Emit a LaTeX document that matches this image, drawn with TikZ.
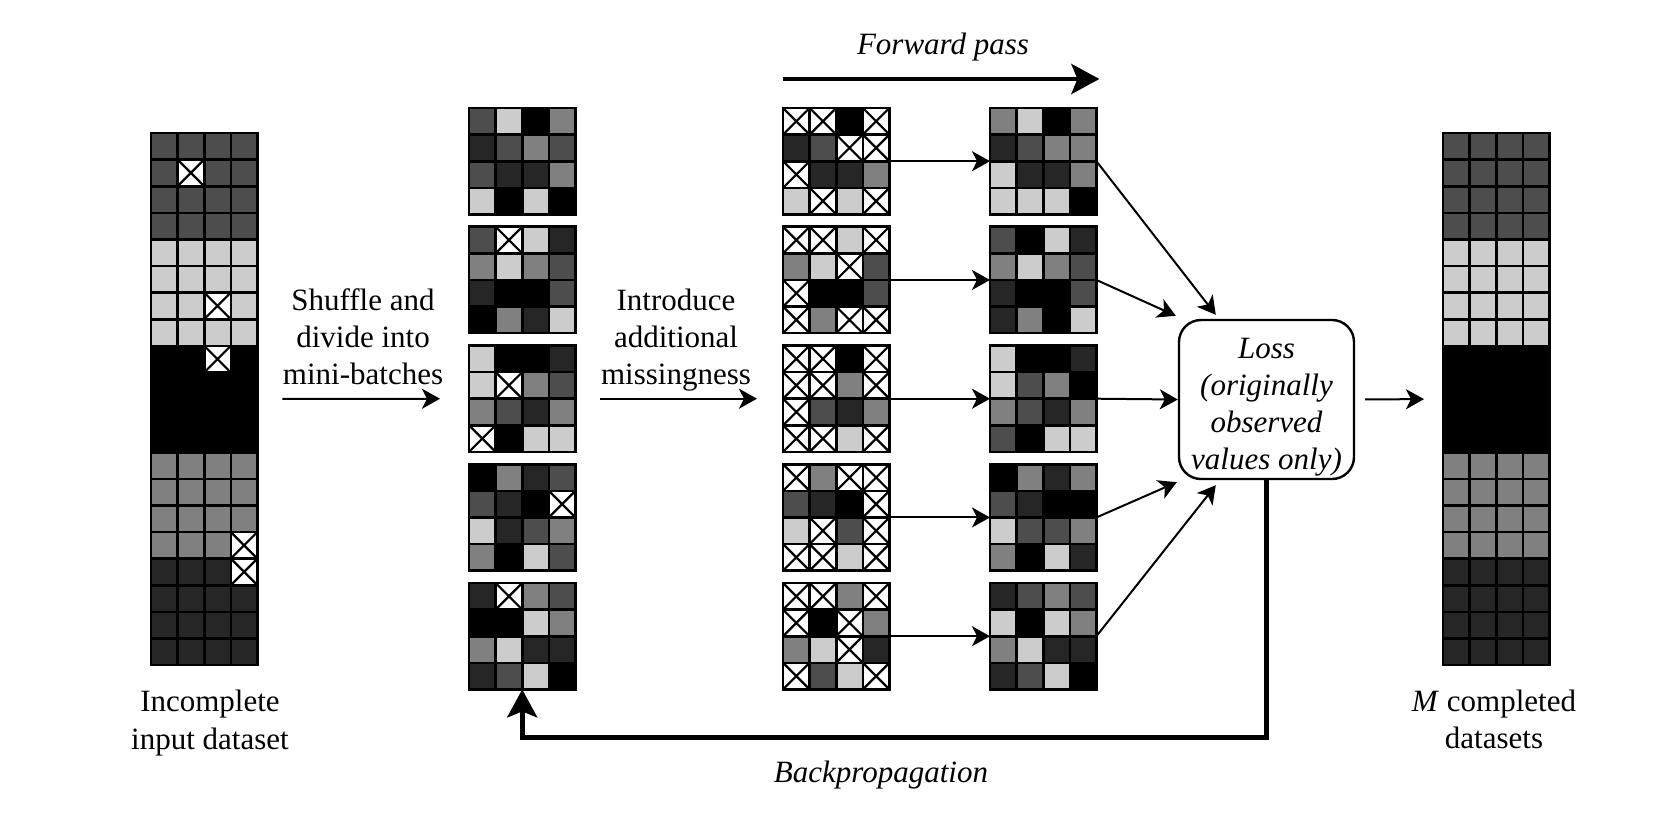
\documentclass[tikz,border=0pt]{standalone}
\usepackage{fontspec}
\setmainfont{Liberation Serif}
\usetikzlibrary{arrows.meta,calc}
\definecolor{gL}{HTML}{CCCCCC}
\definecolor{gM}{HTML}{808080}
\definecolor{gD}{HTML}{4D4D4D}
\definecolor{gV}{HTML}{262626}
\definecolor{gK}{HTML}{000000}
\definecolor{gX}{HTML}{FFFFFF}
\newcommand{\cgrid}[3]{%
  \foreach \rowlist [count=\ri] in {#3}{%
    \foreach \cv [count=\ci] in \rowlist {%
      \path[cellst, fill=g\cv] (#1+\ci*26.6-26.6, #2+\ri*26.6-26.6) rectangle ++(26.6,26.6);
      \if X\cv
        \draw[crossst] (#1+\ci*26.6-26.6, #2+\ri*26.6-26.6) -- ++(26.6,26.6) ++(0,-26.6) -- ++(-26.6,26.6);
      \fi
    }%
  }%
}
\newcommand{\blkgrid}[4]{%
  \node[blk] (#1) at (#2+53.2, #3+53.2) {};
  \cgrid{#2}{#3}{#4}%
}
\begin{document}
\begin{tikzpicture}[x=0.5pt,y=-0.5pt,
  cellst/.style={draw=black,line width=1.3pt},
  crossst/.style={draw=black,line width=1.1pt},
  blk/.style={inner sep=0pt,outer sep=0pt,minimum width=53.2pt,minimum height=53.2pt},
  tall/.style={inner sep=0pt,outer sep=0pt,minimum width=53.2pt,minimum height=266pt},
  txt/.style={align=center,font=\fontsize{15.5}{18.6}\selectfont,inner sep=0pt},
  itxt/.style={align=center,font=\fontsize{15.5}{18.6}\selectfont\itshape,inner sep=0pt},
  arr/.style={line width=1pt,-{Stealth[length=9pt,width=10pt,inset=2.5pt]}},
  bigarr/.style={line width=2.3pt,-{Stealth[length=14pt,width=15pt,inset=3pt]}},
  lossbox/.style={draw,line width=1.2pt,rounded corners=11pt,minimum width=87.5pt,minimum height=79.5pt,inner sep=0pt}]
\useasboundingbox (0,0) rectangle (1670,824);

% left tall column
\node[tall] (lcol) at (151+53.2, 133+266) {};
\cgrid{151}{133}{{D,D,D,D},{D,X,D,D},{D,D,D,D},{D,D,D,D},
  {L,L,L,L},{L,L,L,L},{L,L,X,L},{L,L,L,L},
  {K,K,X,K},{K,K,K,K},{K,K,K,K},{K,K,K,K},
  {M,M,M,M},{M,M,M,M},{M,M,M,M},{M,M,M,X},
  {V,V,V,X},{V,V,V,V},{V,V,V,V},{V,V,V,V}}

% right tall column
\node[tall] (rcol) at (1443+53.2, 133+266) {};
\cgrid{1443}{133}{{D,D,D,D},{D,D,D,D},{D,D,D,D},{D,D,D,D},
  {L,L,L,L},{L,L,L,L},{L,L,L,L},{L,L,L,L},
  {K,K,K,K},{K,K,K,K},{K,K,K,K},{K,K,K,K},
  {M,M,M,M},{M,M,M,M},{M,M,M,M},{M,M,M,M},
  {V,V,V,V},{V,V,V,V},{V,V,V,V},{V,V,V,V}}

% mini-batches
\blkgrid{mb1}{469}{108}{{D,L,K,M},{V,D,M,D},{D,V,V,M},{L,K,L,K}}
\blkgrid{mb2}{469}{226.75}{{D,X,L,V},{M,L,M,D},{V,K,K,D},{K,M,V,L}}
\blkgrid{mb3}{469}{345.5}{{L,K,K,V},{L,X,M,D},{M,D,V,M},{X,K,L,L}}
\blkgrid{mb4}{469}{464.25}{{K,M,V,D},{D,V,K,X},{L,V,D,M},{M,K,L,D}}
\blkgrid{mb5}{469}{583}{{V,X,M,D},{K,K,L,M},{M,L,V,V},{V,D,L,K}}

% masked
\blkgrid{ms1}{783}{108}{{X,X,K,X},{V,D,X,X},{X,V,V,M},{L,X,L,X}}
\blkgrid{ms2}{783}{226.75}{{X,X,L,X},{M,L,X,D},{X,K,K,D},{X,M,X,X}}
\blkgrid{ms3}{783}{345.5}{{X,X,K,X},{X,X,M,X},{X,D,V,M},{X,X,L,X}}
\blkgrid{ms4}{783}{464.25}{{X,M,X,X},{D,V,K,X},{L,X,D,X},{X,X,L,X}}
\blkgrid{ms5}{783}{583}{{X,X,M,X},{X,K,X,M},{M,L,X,V},{X,D,L,X}}

% outputs
\blkgrid{out1}{990}{108}{{M,L,K,M},{V,D,M,M},{L,V,V,M},{L,L,L,K}}
\blkgrid{out2}{990}{226.75}{{D,K,L,V},{M,L,M,D},{V,K,K,D},{V,M,K,L}}
\blkgrid{out3}{990}{345.5}{{L,K,K,V},{L,D,M,K},{M,D,V,M},{D,K,L,L}}
\blkgrid{out4}{990}{464.25}{{K,M,V,M},{D,V,K,K},{L,D,D,M},{M,K,L,V}}
\blkgrid{out5}{990}{583}{{V,D,M,D},{L,K,L,M},{M,L,V,V},{V,D,L,K}}

% loss box
\node[lossbox] (loss) at (1266.5,399.5) {};
\node[itxt] (losstxt) at ($(loss.center)+(0,7.5)$) {Loss\\(originally\\observed\\values only)};

% labels
\node[txt] (lbl1) at (210,723) {Incomplete\\input dataset};
\node[txt] (lbl2) at (1494,719) {\textit{M} completed\\datasets};
\node[txt] (lbl3) at (363,337) {Shuffle and\\divide into\\mini-batches};
\node[txt] (lbl4) at (676,340) {Introduce\\additional\\missingness};
\node[itxt] (lbl5) at (943,47) {Forward pass};
\node[itxt] (lbl6) at (881,775) {Backpropagation};

% arrows
\draw[arr, shorten <=12.5pt, shorten >=14.5pt] (lcol.east) -- (mb3.west);
\draw[arr, shorten <=12.3pt, shorten >=13pt] (mb3.east) -- (ms3.west);
\foreach \i in {1,...,5} {\draw[arr] (ms\i.east) -- (out\i.west);}
\coordinate (t1) at ($(loss.north west)+(38,-4)$);
\coordinate (t2) at ($(loss.north west)+(-2,-3)$);
\coordinate (t4) at ($(loss.south west)+(-1,2)$);
\coordinate (t5) at ($(loss.south west)+(38,5)$);
\draw[arr] (out1.east) -- (t1);
\draw[arr] (out2.east) -- (t2);
\draw[arr] (out3.east) -- (loss.west);
\draw[arr] (out4.east) -- (t4);
\draw[arr] (out5.east) -- (t5);
\draw[arr, shorten <=5pt, shorten >=9.5pt] (loss.east) -- (rcol.west);

% forward pass
\coordinate (fp1) at ($(ms1.north west)+(0,-29)$);
\coordinate (fp2) at ($(out1.north east)+(3,-29)$);
\draw[bigarr] (fp1) -- (fp2);

% backpropagation
\coordinate (bp) at ($(mb5.south)+(0,48)$);
\draw[bigarr] (loss.south) |- (bp) -- (mb5.south);
\end{tikzpicture}
\end{document}
